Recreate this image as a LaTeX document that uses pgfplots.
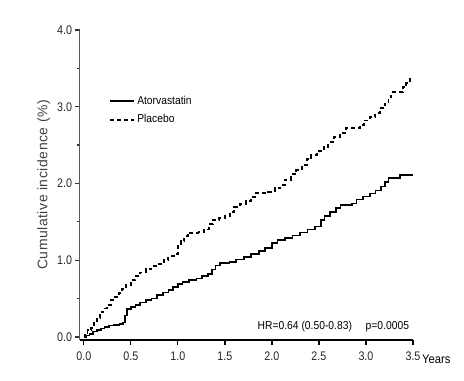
\documentclass[border=0pt]{standalone}
\usepackage{fontspec}
\setmainfont[FakeStretch=0.9]{Liberation Sans}
\newfontfamily\tickfont[FakeStretch=0.86]{Liberation Sans}
\newfontfamily\ylabfont[LetterSpace=4]{Liberation Sans}
\usepackage{pgfplots}
\pgfplotsset{compat=1.18}
\begin{document}
\begin{tikzpicture}
\begin{axis}[
  scale only axis,
  width=333bp, height=310bp,
  xmin=-0.04, xmax=3.5, ymin=-0.04, ymax=4.0,
  axis lines*=left,
  x axis line style={black, line width=1.6bp},
  y axis line style={black!65, line width=1bp},
  xtick={0,0.5,...,3.5},
  ytick={0,1,2,3,4},
  minor ytick={0.5,1.5,2.5,3.5},
  tick align=outside,
  major tick length=4.5bp,
  minor tick length=3bp,
  xtick style={black, line width=1.3bp},
  ytick style={black!80, line width=1.2bp},
  xticklabel style={/pgf/number format/fixed,/pgf/number format/fixed zerofill,/pgf/number format/precision=1, yshift=-4bp},
  yticklabel style={/pgf/number format/fixed,/pgf/number format/fixed zerofill,/pgf/number format/precision=1},
  /pgf/number format/assume math mode=true,
  ticklabel style={font=\tickfont\fontsize{12.5}{14}\selectfont, text=black!85},
  ylabel={\ylabfont\fontsize{14}{16}\selectfont Cumulative incidence (\%)},
  ylabel style={text=black!75},
  clip=false,
  legend style={at={(axis cs:0.27,3.17)}, anchor=north west, draw=none, fill=none,
    font=\fontsize{11.5}{13}\selectfont, row sep=5bp, inner sep=0pt},
  legend cell align=left,
  legend image code/.code={\draw[#1] (0bp,0bp) -- (24bp,0bp);},
]
\addplot[const plot, black, line width=1.7bp] coordinates {
(0,0.0) (0.03,0.02) (0.06,0.04) (0.10,0.07) (0.14,0.09) (0.18,0.11) (0.22,0.13)
(0.27,0.15) (0.32,0.16) (0.38,0.17) (0.42,0.19) (0.44,0.28) (0.46,0.36) (0.50,0.39)
(0.55,0.42) (0.60,0.45) (0.66,0.48) (0.72,0.50) (0.78,0.55) (0.84,0.58) (0.90,0.61)
(0.95,0.65) (1.00,0.69) (1.05,0.72) (1.12,0.74) (1.20,0.76) (1.26,0.79) (1.32,0.82)
(1.36,0.88) (1.40,0.93) (1.45,0.96) (1.55,0.98) (1.62,1.01) (1.70,1.04) (1.78,1.08)
(1.86,1.12) (1.93,1.16) (2.00,1.22) (2.06,1.26) (2.14,1.29) (2.22,1.32) (2.30,1.36)
(2.38,1.40) (2.46,1.44) (2.52,1.52) (2.56,1.58) (2.62,1.63) (2.68,1.68) (2.73,1.72)
(2.85,1.74) (2.90,1.79) (2.97,1.83) (3.04,1.87) (3.10,1.91) (3.16,1.96) (3.20,2.02)
(3.24,2.07) (3.36,2.11) (3.50,2.11)
};
\addlegendentry{Atorvastatin}
\addplot[const plot, black, line width=1.9bp, dash pattern=on 4bp off 3bp] coordinates {
(0,0.0) (0.01,0.05) (0.04,0.09) (0.08,0.12) (0.11,0.18) (0.14,0.25) (0.17,0.32)
(0.21,0.37) (0.25,0.42) (0.29,0.48) (0.33,0.52) (0.37,0.57) (0.41,0.62) (0.45,0.68)
(0.50,0.74) (0.55,0.79) (0.60,0.84) (0.66,0.88) (0.72,0.92) (0.80,0.95) (0.85,1.00)
(0.90,1.05) (0.96,1.08) (1.00,1.18) (1.03,1.25) (1.07,1.31) (1.11,1.36) (1.22,1.37)
(1.28,1.40) (1.33,1.47) (1.37,1.52) (1.44,1.55) (1.50,1.58) (1.55,1.63) (1.60,1.69)
(1.66,1.73) (1.72,1.77) (1.78,1.82) (1.82,1.87) (1.96,1.89) (2.03,1.94) (2.09,1.98)
(2.14,2.05) (2.20,2.12) (2.26,2.17) (2.32,2.24) (2.37,2.32) (2.42,2.37) (2.48,2.42)
(2.55,2.48) (2.60,2.54) (2.66,2.60) (2.72,2.66) (2.79,2.72) (2.94,2.76) (2.98,2.82)
(3.04,2.87) (3.10,2.92) (3.15,2.98) (3.20,3.04) (3.24,3.13) (3.27,3.19) (3.36,3.19)
(3.39,3.26) (3.43,3.31) (3.47,3.37)
};
\addlegendentry{Placebo}
\node[anchor=east, font=\fontsize{11.5}{13}\selectfont, inner sep=0pt] at (axis cs:3.46,0.13) {HR=0.64 (0.50-0.83)\hspace{1.2em}p=0.0005};
\node[anchor=west, font=\fontsize{12.5}{14}\selectfont, inner sep=0pt] at ([xshift=9bp,yshift=-19bp]axis cs:3.5,-0.04) {Years};
\end{axis}
\path ([shift={(-80bp,-41bp)}]current axis.south west) rectangle +(464bp,381bp);
\end{tikzpicture}
\end{document}
